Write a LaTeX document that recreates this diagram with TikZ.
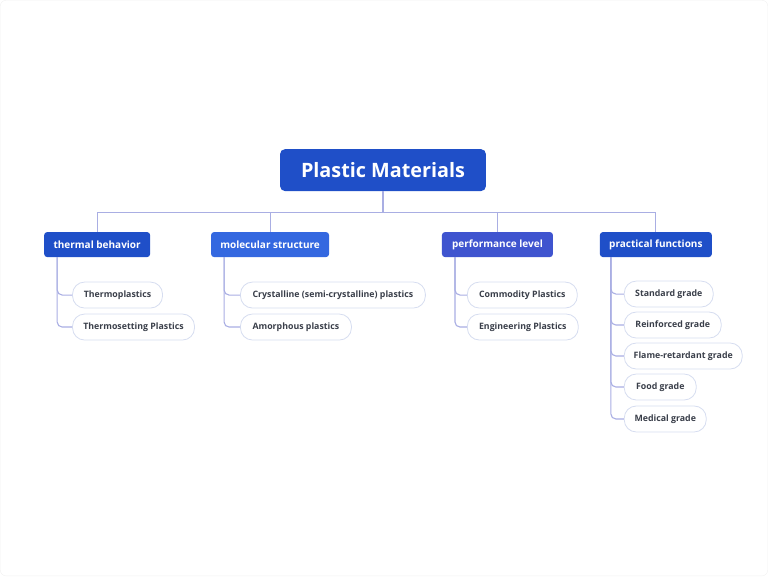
\documentclass[tikz,border=0pt]{standalone}
\usepackage{fontspec}
\setmainfont{Open Sans}
\begin{document}
\begin{tikzpicture}[x=1pt,y=-1pt,
  rootbox/.style={fill=rootblue, rounded corners=5pt, text=white, font=\bfseries\fontsize{19.8}{22}\selectfont, minimum width=206pt, minimum height=42pt, inner sep=0pt},
  catbox/.style={rounded corners=3pt, text=white, font=\bfseries\fontsize{10}{12}\selectfont, minimum height=25pt, inner sep=0pt},
  leaf/.style={draw=leafline, line width=0.8pt, fill=white, rounded corners=12pt, text=leaftext, font=\bfseries\fontsize{8.8}{10}\selectfont, minimum height=26pt, inner sep=0pt, anchor=west},
  conn/.style={draw=connline, line width=1.1pt},
  leafconn/.style={draw=connline, line width=1.1pt, rounded corners=5pt}
]
\definecolor{rootblue}{HTML}{1F4FC8}
\definecolor{catA}{HTML}{1F4FC8}
\definecolor{catB}{HTML}{3468E0}
\definecolor{catC}{HTML}{3F54CF}
\definecolor{catD}{HTML}{1F4FC8}
\definecolor{leafline}{HTML}{D6DDF0}
\definecolor{leaftext}{HTML}{3A3F4A}
\definecolor{connline}{HTML}{A9AEE3}
\useasboundingbox[draw=gray!12, rounded corners=6pt] (0,0) rectangle (768,576);

\node[rootbox] (root) at (383,170) {Plastic Materials};

\node[catbox, fill=catA, minimum width=106pt] (c1) at (97,244.5) {thermal behavior};
\node[catbox, fill=catB, minimum width=118pt] (c2) at (270,244.5) {molecular structure};
\node[catbox, fill=catC, minimum width=111pt] (c3) at (497.5,244.5) {performance level};
\node[catbox, fill=catD, minimum width=112pt] (c4) at (656,244.5) {practical functions};

\coordinate (bus) at (383,212);
\foreach \c in {c1,c2,c3,c4}{
  \draw[conn] (root.south) -- (bus) -| (\c.north);
}

\node[leaf, minimum width=90pt] (l11) at (72,295) {Thermoplastics};
\node[leaf, minimum width=122pt] (l12) at (72,327) {Thermosetting Plastics};
\node[leaf, minimum width=185pt] (l21) at (240,295) {Crystalline (semi-crystalline) plastics};
\node[leaf, minimum width=111pt] (l22) at (240,327) {Amorphous plastics};
\node[leaf, minimum width=110pt] (l31) at (467,295) {Commodity Plastics};
\node[leaf, minimum width=111pt] (l32) at (467,327) {Engineering Plastics};
\node[leaf, minimum width=89pt] (l41) at (624,294) {Standard grade};
\node[leaf, minimum width=97pt] (l42) at (624,325) {Reinforced grade};
\node[leaf, minimum width=118pt] (l43) at (624,356) {Flame-retardant grade};
\node[leaf, minimum width=72pt] (l44) at (624,387) {Food grade};
\node[leaf, minimum width=82pt] (l45) at (624,419) {Medical grade};

\coordinate (s1) at (57,257);
\coordinate (s2) at (224,257);
\coordinate (s3) at (455,257);
\coordinate (s4) at (611,257);

\foreach \s/\l in {s1/l11,s1/l12,s2/l21,s2/l22,s3/l31,s3/l32,s4/l41,s4/l42,s4/l43,s4/l44,s4/l45}{
  \draw[leafconn] (\s) |- (\l.west);
}
\end{tikzpicture}
\end{document}
